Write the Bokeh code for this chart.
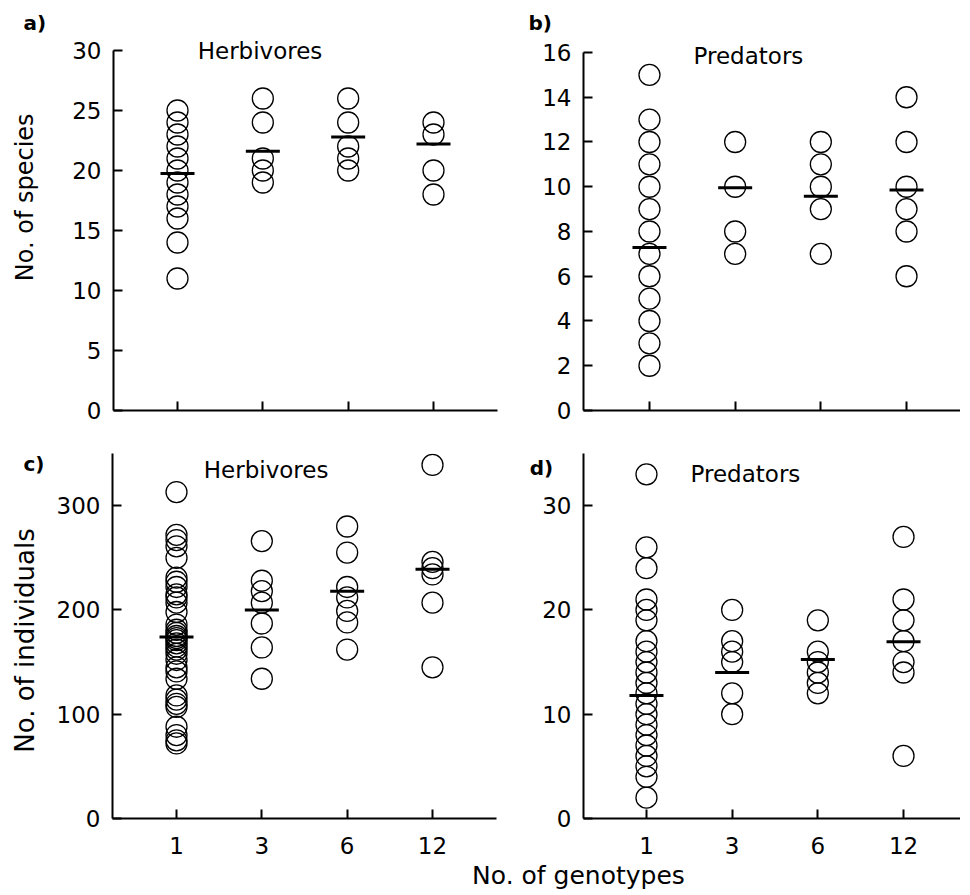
import math
from bokeh.plotting import figure
from bokeh.layouts import column, row
from bokeh.models import Range1d, FixedTicker, Label, Title
from bokeh.embed import file_html
from bokeh.resources import INLINE

# ---------------- data ----------------
genotypes = ["1", "3", "6", "12"]

herb_species = [
    [25, 24, 23, 22, 21, 20, 19, 18, 17, 16, 14, 11],
    [26, 24, 21, 20, 19],
    [26, 24, 22, 21, 20],
    [24, 23, 20, 18],
]
herb_species_mean = [19.75, 21.6, 22.8, 22.2]

pred_species = [
    [15, 13, 12, 11, 10, 9, 8, 7, 6, 5, 4, 3, 2],
    [12, 10, 8, 7],
    [12, 11, 10, 9, 7],
    [14, 12, 10, 9, 8, 6],
]
pred_species_mean = [7.28, 9.95, 9.57, 9.85]

herb_ind = [
    [313, 272, 267, 261, 250, 231, 227, 222, 215, 212, 207, 198, 186,
     181, 178, 175, 173, 171, 168, 165, 162, 158, 152, 145, 141, 134,
     118, 114, 110, 107, 88, 80, 75, 72],
    [266, 228, 218, 207, 187, 164, 134],
    [280, 255, 222, 212, 199, 188, 162],
    [339, 246, 240, 234, 207, 145],
]
herb_ind_mean = [174, 200, 218, 239]

pred_ind = [
    [33, 26, 24, 21, 20, 19, 17, 16, 15, 14, 13, 12, 11, 10, 9, 8, 7, 6, 5, 4, 2],
    [20, 17, 16, 15, 12, 10],
    [19, 16, 15, 14, 13, 12],
    [27, 21, 19, 17, 15, 14, 6],
]
pred_ind_mean = [11.8, 14.0, 15.25, 16.95]

FONT = "DejaVu Sans"
TICK_SIZE = "23px"


def blank(width, height, top, bottom):
    p = figure(frame_width=width, frame_height=height,
               x_range=Range1d(0, width), y_range=Range1d(0, height),
               output_backend="svg", toolbar_location=None,
               min_border_left=0, min_border_right=0,
               min_border_top=top, min_border_bottom=bottom)
    p.axis.visible = False
    p.grid.visible = False
    p.outline_line_color = None
    return p


def panel(values, means, xr, yr, ybounds, yticks, frame_w, frame_h, borders,
          show_xlabels):
    left, right, top, bottom = borders
    p = figure(frame_width=frame_w, frame_height=frame_h,
               x_range=Range1d(*xr), y_range=Range1d(*yr),
               output_backend="svg", toolbar_location=None,
               min_border_left=left, min_border_right=right,
               min_border_top=top, min_border_bottom=bottom)
    p.outline_line_color = None
    p.grid.visible = False

    xs, ys = [], []
    for i, vals in enumerate(values):
        xs += [i + 1] * len(vals)
        ys += vals
    p.scatter(xs, ys, marker="circle", size=21, fill_color=None,
              line_color="black", line_width=1.3)
    p.scatter(list(range(1, len(means) + 1)), means, marker="dash", size=34,
              line_color="black", line_width=3)

    for ax in (p.xaxis[0], p.yaxis[0]):
        ax.axis_line_width = 2
        ax.axis_line_color = "black"
        ax.major_tick_line_width = 2
        ax.major_tick_line_color = "black"
        ax.major_tick_in = 9
        ax.major_tick_out = 0
        ax.minor_tick_line_color = None
        ax.major_label_text_font = FONT
        ax.major_label_text_font_size = TICK_SIZE
        ax.major_label_text_color = "black"
        ax.major_label_standoff = 12

    p.xaxis.ticker = FixedTicker(ticks=[1, 2, 3, 4])
    if show_xlabels:
        p.xaxis.major_label_overrides = {i + 1: g for i, g in enumerate(genotypes)}
        p.xaxis.major_label_standoff = 18
    else:
        p.xaxis.major_label_overrides = {i + 1: "" for i in range(4)}
    p.yaxis.ticker = FixedTicker(ticks=yticks)
    p.yaxis.bounds = ybounds
    return p


def add_text(p, x, y, text, size, bold=False, align="center", angle=0.0):
    p.add_layout(Label(x=x, y=y, text=text, text_font=FONT,
                       text_font_size=size,
                       text_font_style="bold" if bold else "normal",
                       text_align=align, text_baseline="middle",
                       text_color="black", angle=angle))


def letter_title(p, text, offset):
    p.add_layout(Title(text=text, align="left", offset=offset, standoff=4,
                       text_font=FONT, text_font_size="20px",
                       text_font_style="bold", text_color="black"), "above")


# ---------- row 1 (top border 36, frame 374, bottom 20) ----------
la = blank(60, 374, 36, 20)
letter_title(la, "a)", 23)
add_text(la, 24, 217, "No. of  species", "24px", angle=math.pi / 2)

pa = panel(herb_species, herb_species_mean, (0.25, 4.75), (0, 31.167), (0, 30),
           [0, 5, 10, 15, 20, 25, 30], 384, 374, (53, 13, 36, 20), False)
add_text(pa, 1.967, 29.92, "Herbivores", "23px")

pb = panel(pred_species, pred_species_mean, (0.23, 4.63), (0, 16.715), (0, 16),
           [0, 2, 4, 6, 8, 10, 12, 14, 16], 377, 374, (73, 0, 36, 20), False)
letter_title(pb, "b)", -55)
add_text(pb, 2.155, 15.86, "Predators", "23px")

# ---------- row 2 (top border 23, frame 365, bottom 40) ----------
lc = blank(52, 365, 23, 40)
add_text(lc, 23, 355, "c)", "20px", bold=True, align="left")
add_text(lc, 24, 178, "No. of individuals", "26px", angle=math.pi / 2)

pc = panel(herb_ind, herb_ind_mean, (0.25, 4.75), (0, 350), (0, 350),
           [0, 100, 200, 300], 384, 365, (60, 14, 23, 40), True)
add_text(pc, 2.05, 334.5, "Herbivores", "23px")

pd_ = panel(pred_ind, pred_ind_mean, (0.265, 4.665), (0, 35), (0, 35),
            [0, 10, 20, 30], 377, 365, (73, 0, 23, 40), True)
yd = pd_.yaxis[0]
yd.axis_label = "\nd)"
yd.axis_label_text_font = FONT
yd.axis_label_text_font_size = "20px"
yd.axis_label_text_font_style = "bold"
yd.axis_label_text_color = "black"
yd.axis_label_orientation = "horizontal"
yd.axis_label_standoff = -14
try:
    yd.axis_label_align = "end"
except Exception:
    pass
add_text(pd_, 2.155, 33.0, "Predators", "23px")

# ---------- shared x title ----------
pt = blank(960, 32, 0, 0)
add_text(pt, 578, 15, "No. of genotypes", "25px")

layout = column(row(la, pa, pb), row(lc, pc, pd_), pt)
open("out.html", "w").write(file_html(layout, INLINE))
